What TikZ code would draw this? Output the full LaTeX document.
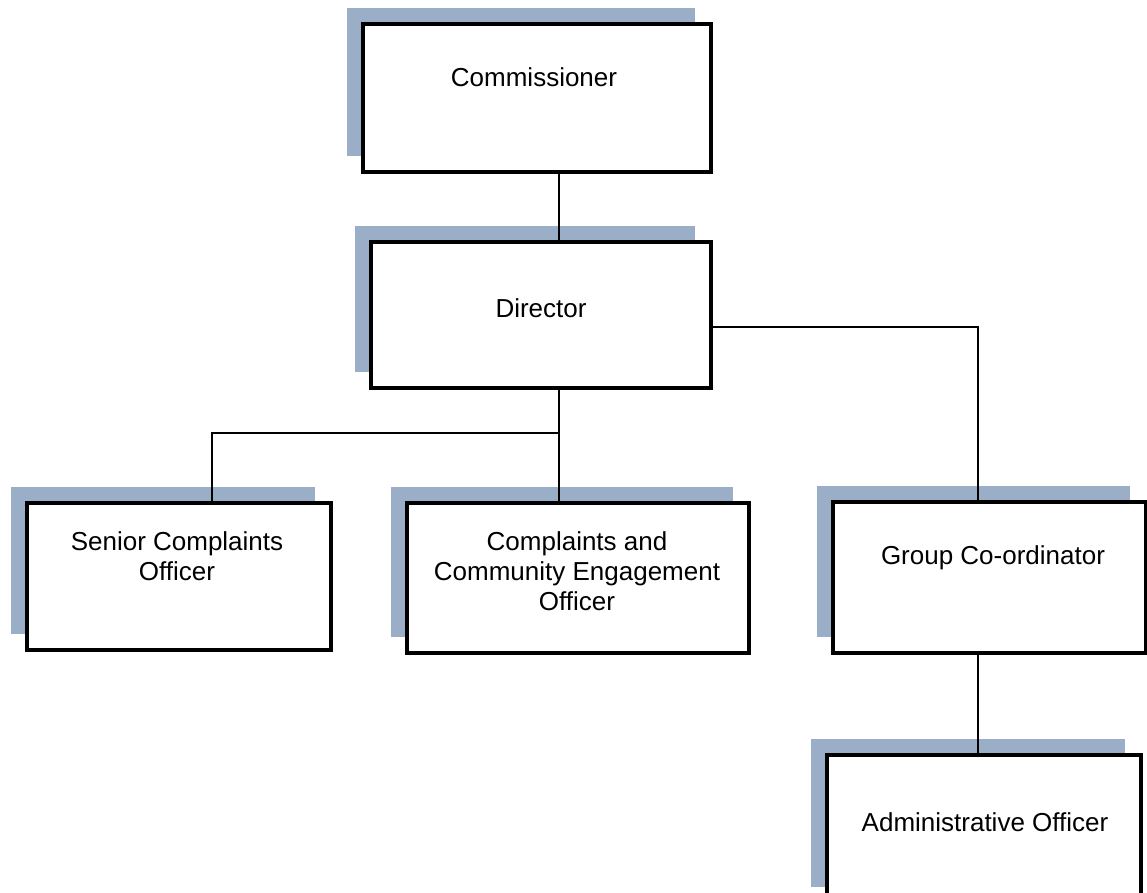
\documentclass[tikz,border=0pt]{standalone}
\usepackage{fontspec}
\setmainfont{Liberation Sans}
\usetikzlibrary{shadows}
\definecolor{shadowblue}{RGB}{154,174,199}
\begin{document}
\begin{tikzpicture}[x=1pt,y=-1pt,
    post/.style={draw,line width=3.5pt,fill=white,
      general shadow={fill=shadowblue,shadow xshift=-16pt,shadow yshift=16pt}},
    lbl/.style={font=\fontsize{26}{30}\selectfont,align=center,inner sep=0pt},
    link/.style={line width=1.2pt}]
  \useasboundingbox (0,0) rectangle (1147,892);
  \node[post,minimum width=348pt,minimum height=148pt] (comm) at (537,98) {};
  \node[post,minimum width=340pt,minimum height=146pt] (dir) at (541,315) {};
  \node[post,minimum width=304pt,minimum height=147pt] (sco) at (179,576.5) {};
  \node[post,minimum width=342pt,minimum height=150pt] (cceo) at (578,578) {};
  \node[post,minimum width=313pt,minimum height=151pt] (gc) at (989.5,577.5) {};
  \node[post,minimum width=314pt,minimum height=148pt] (ao) at (984,829) {};
  \node[lbl] (commT) at (534,77) {Commissioner};
  \node[lbl] (dirT) at (541,308) {Director};
  \node[lbl] (scoT) at (177,556) {Senior Complaints\\Officer};
  \node[lbl] (cceoT) at (577,571) {Complaints and\\Community Engagement\\Officer};
  \node[lbl] (gcT) at (993,558) {Group Co-ordinator};
  \node[lbl] (aoT) at (985,822) {Administrative Officer};
  % reporting lines
  \coordinate (spineA) at (559,433);
  \coordinate (spineB) at (978,327);
  \coordinate (leftA) at (212,433);
  \draw[link] (comm.south -| spineA) -- (dir.north -| spineA);
  \draw[link] (dir.south -| spineA) -- (cceo.north -| spineA);
  \draw[link] (spineA) -- (leftA) -- (sco.north -| leftA);
  \draw[link] (dir.east |- spineB) -- (spineB) -- (gc.north -| spineB);
  \draw[link] (gc.south -| spineB) -- (ao.north -| spineB);
\end{tikzpicture}
\end{document}
